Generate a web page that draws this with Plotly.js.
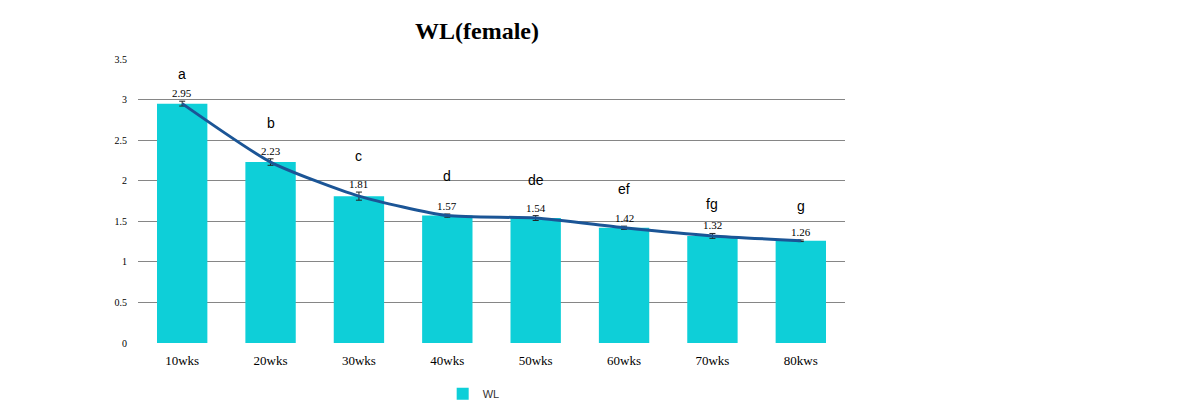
<!DOCTYPE html>
<html>
<head>
<meta charset="utf-8">
<script src="https://cdn.plot.ly/plotly-3.0.1.min.js"></script>
<style>html,body{margin:0;padding:0;background:#fff;}#chart{width:1190px;height:406px;}</style>
</head>
<body>
<div id="chart"></div>
<script>
const categories = ["10wks","20wks","30wks","40wks","50wks","60wks","70wks","80kws"];
const values = [2.95, 2.23, 1.81, 1.57, 1.54, 1.42, 1.32, 1.26];
const errors = [0.03, 0.04, 0.05, 0.02, 0.03, 0.02, 0.03, 0.01];
const letters = ["a","b","c","d","de","ef","fg","g"];
const letterLevels = [3.32, 2.71, 2.31, 2.06, 2.01, 1.90, 1.71, 1.69];
const valueLabels = ["2.95","2.23","1.81","1.57","1.54","1.42","1.32","1.26"];

const barColor = "#0ECFD8";
const lineColor = "#1B5596";

const traces = [
  {
    type: "bar", x: categories, y: values, name: "WL",
    marker: {color: barColor},
    error_y: {type: "data", array: errors, visible: true, color: "#222", thickness: 1, width: 3},
    showlegend: true
  },
  {
    type: "scatter", mode: "lines", x: categories, y: values,
    line: {color: lineColor, width: 3, shape: "spline", smoothing: 0.6},
    showlegend: false, hoverinfo: "skip"
  }
];

const annotations = [];
categories.forEach((c, i) => {
  annotations.push({
    x: c, y: values[i] + errors[i], xref: "x", yref: "y",
    text: valueLabels[i], showarrow: false, yanchor: "bottom", yshift: 0,
    font: {family: "Liberation Serif, serif", size: 11, color: "#000"}
  });
  annotations.push({
    x: c, y: letterLevels[i], xref: "x", yref: "y",
    text: letters[i], showarrow: false, yanchor: "middle",
    font: {family: "Liberation Sans, Arial, sans-serif", size: 14, color: "#000"}
  });
});

const layout = {
  width: 1190, height: 406,
  margin: {l: 138, r: 345, t: 59, b: 63, autoexpand: false},
  paper_bgcolor: "#fff", plot_bgcolor: "#fff",
  title: {text: "<b>WL(female)</b>", x: 477/1190, xanchor: "center", y: 0.925, yanchor: "middle",
    font: {family: "Liberation Serif, serif", size: 24, color: "#000"}},
  bargap: 0.43,
  xaxis: {
    type: "category", showgrid: false, zeroline: false, showline: false, ticks: "",
    tickfont: {family: "Liberation Serif, serif", size: 13, color: "#000"},
    ticklabelstandoff: 8
  },
  yaxis: {
    range: [0, 3.5], dtick: 0.5, tick0: 0, showgrid: true, gridcolor: "#868686", gridwidth: 1,
    zeroline: false, showline: false, ticks: "",
    tickfont: {family: "Liberation Serif, serif", size: 10, color: "#000"},
    ticklabelstandoff: 10
  },
  legend: {orientation: "h", xref: "container", yref: "container", x: 0.372, xanchor: "left",
    y: 0.03, yanchor: "middle", itemwidth: 30,
    font: {family: "Liberation Sans, Arial, sans-serif", size: 11, color: "#333"}},
  annotations: annotations
};

Plotly.newPlot("chart", traces, layout, {displayModeBar: false, staticPlot: true});
</script>
</body>
</html>
